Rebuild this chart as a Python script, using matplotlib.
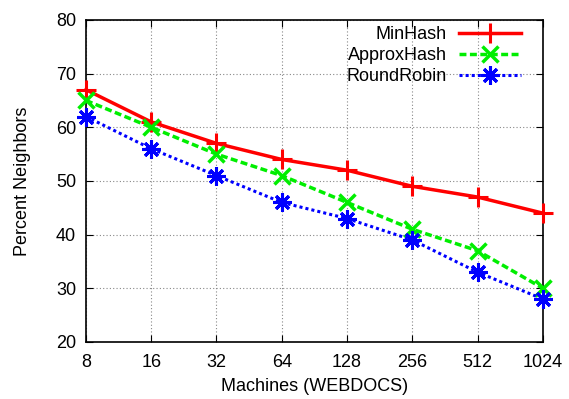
import matplotlib
matplotlib.use("Agg")
import matplotlib.pyplot as plt
import numpy as np

machines = [8, 16, 32, 64, 128, 256, 512, 1024]
minhash = [67, 61, 57, 54, 52, 49, 47, 44]
approxhash = [65, 60, 55, 51, 46, 41, 37, 30]
roundrobin = [62, 56, 51, 46, 43, 39, 33, 28]
yticks = [20, 30, 40, 50, 60, 70, 80]

plt.rcParams['font.family'] = ['Liberation Sans', 'DejaVu Sans']

fig = plt.figure(figsize=(5.69, 3.99), dpi=100)
ax = fig.add_axes([0.151, 0.143, 0.803, 0.807])

x = np.arange(len(machines))
ax.plot(x, minhash, color='#ff0000', lw=2.5, ls='-', marker='+', ms=14, mew=2.2,
        label='MinHash', clip_on=False, zorder=5)
ax.plot(x, approxhash, color='#00ee00', lw=2.5, ls=(0, (2, 1)), marker='x', ms=11, mew=2.5,
        label='ApproxHash', clip_on=False, zorder=5)
ax.plot(x, roundrobin, color='#0000ff', lw=2.2, ls=(0, (1, 1)), marker=(8, 2, 0), ms=13, mew=2.2,
        label='RoundRobin', clip_on=False, zorder=5)

ax.set_xlim(0, len(machines) - 1)
ax.set_ylim(20, 80)
ax.set_xticks(x)
ax.set_xticklabels([str(m) for m in machines])
ax.set_yticks(yticks)
ax.tick_params(direction='in', top=True, right=True, labelsize=13, length=5)
ax.tick_params(axis='x', pad=9)
ax.tick_params(axis='y', pad=7)
ax.grid(True, color='#888888', ls=(0, (1, 2)), lw=0.8)
for s in ax.spines.values():
    s.set_linewidth(1.2)

ax.set_xlabel('Machines (WEBDOCS)', fontsize=13, labelpad=5)
ax.set_ylabel('Percent Neighbors', fontsize=13, labelpad=18)

leg = ax.legend(loc='upper right', markerfirst=False, frameon=False, fontsize=13,
                handlelength=3.4, borderaxespad=0.0, borderpad=0.35, labelspacing=0.22,
                handletextpad=0.7, bbox_to_anchor=(0.965, 1.0))
for t in leg.get_texts():
    t.set_ha('right')

fig.savefig('out.png', dpi=100)
